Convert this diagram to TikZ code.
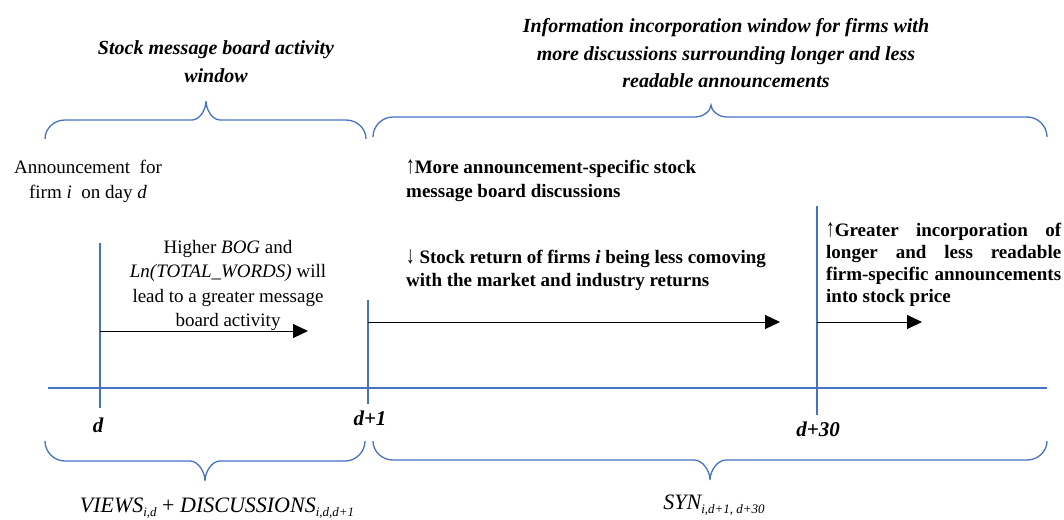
\documentclass[tikz,border=0pt]{standalone}
\usepackage{fontspec}
\setmainfont{Liberation Serif}
\usetikzlibrary{arrows.meta}
\definecolor{lineblue}{HTML}{4472C4}
\newcommand\sbx[1]{\raisebox{-3.5pt}{\fontsize{13}{13}\selectfont\itshape #1}}
\newcommand\uparr{\scalebox{0.9}[1.3]{↑}}
\newcommand\downarr{\scalebox{0.9}[1.3]{↓}}
% brace: x1, x2, yend, yh, xtip, ytip, r, rtip
\newcommand\mybrace[8]{%
  \draw[bluel] (#1,#3) .. controls (#1,{#4+0.45*(#3-#4)}) and ({#1+0.45*#7},#4) .. ({#1+#7},#4)
   -- ({#5-#8},#4) .. controls ({#5-0.45*#8},#4) and (#5,{#6+0.45*(#4-#6)}) .. (#5,#6)
   .. controls (#5,{#6+0.45*(#4-#6)}) and ({#5+0.45*#8},#4) .. ({#5+#8},#4)
   -- ({#2-#7},#4) .. controls ({#2-0.45*#7},#4) and (#2,{#4+0.45*(#3-#4)}) .. (#2,#3);}
\tikzset{
  bluel/.style={draw=lineblue, line width=1.3pt},
  arr/.style={draw=black, line width=1pt, -{Triangle[length=15pt,width=14pt]}},
  title/.style={font=\fontsize{20}{27.5}\selectfont\bfseries\itshape, align=center, inner sep=0pt},
  plain/.style={font=\fontsize{19}{25}\selectfont, align=center, inner sep=0pt},
  bold/.style={font=\fontsize{19}{24}\selectfont\bfseries, align=left, inner sep=0pt},
  daylbl/.style={font=\fontsize{21}{25}\selectfont\bfseries\itshape, inner sep=0pt},
  varlbl/.style={font=\fontsize{22}{26}\selectfont\itshape, inner sep=0pt}
}
\begin{document}
\begin{tikzpicture}[x=1pt,y=-1pt]
\useasboundingbox (0,0) rectangle (1064,519);
% titles
\node[title] (t1) at (216,61.5) {Stock message board activity\\window};
\node[title] (t2) at (726,53.5) {Information incorporation window for firms with\\more discussions surrounding longer and less\\readable announcements};
% braces
\mybrace{45}{366}{139}{120}{206}{101}{20}{14}
\mybrace{373}{1047}{137}{117}{711}{105}{20}{16}
\mybrace{45}{365}{441}{461}{205}{481}{20}{15}
\mybrace{373}{1047}{441}{460}{710}{480}{20}{16}
% texts
\node[plain] (ann) at (88,181) {Announcement\ \ for\\firm \textit{i}\ \ on day \textit{d}};
\node[plain, font=\fontsize{19}{24.3}\selectfont] (hig) at (228,285.5) {Higher \textit{BOG} and\\\textit{Ln(TOTAL\_WORDS)} will\\lead to a greater message\\board activity};
\node[bold, anchor=west] (more) at (406,181) {\uparr More announcement-specific stock\\message board discussions};
\node[bold, font=\fontsize{19}{22.5}\selectfont\bfseries, anchor=west] (ret) at (406,270) {\downarr\ Stock return of firms \textit{i} being less comoving\\with the market and industry returns};
\node[bold, font=\fontsize{19}{22}\selectfont\bfseries, anchor=west, text width=235pt, align=justify] (gre) at (826,265) {\uparr Greater incorporation of\linebreak longer and less readable\linebreak firm-specific announcements\linebreak into stock price};
% timeline
\coordinate (tl0) at (48,388);
\coordinate (tl1) at (1047,388);
\draw[bluel] (tl0) -- (tl1);
\coordinate (vdT) at (100,243);   \coordinate (vdB) at (100,408);
\coordinate (vd1T) at (368,300);  \coordinate (vd1B) at (368,404);
\coordinate (vd30T) at (817,206); \coordinate (vd30B) at (817,415);
\draw[bluel] (vdT) -- (vdB);
\draw[bluel] (vd1T) -- (vd1B);
\draw[bluel] (vd30T) -- (vd30B);
% arrows
\coordinate (a1s) at (100,331); \coordinate (a1e) at (308,331);
\coordinate (a2s) at (368,322); \coordinate (a2e) at (780,322);
\coordinate (a3s) at (817,322); \coordinate (a3e) at (922,322);
\draw[arr] (a1s) -- (a1e);
\draw[arr] (a2s) -- (a2e);
\draw[arr] (a3s) -- (a3e);
% day labels
\node[daylbl] (ld) at (98,425) {d};
\node[daylbl] (ld1) at (370,418) {d+1};
\node[daylbl] (ld30) at (818,429) {d+30};
% variable labels
\node[varlbl] (views) at (217,508) {VIEWS\sbx{i,d} \textup{+} DISCUSSIONS\sbx{i,d,d+1}};
\node[varlbl] (syn) at (714,505) {SYN\sbx{i,d+1, d+30}};
\end{tikzpicture}
\end{document}
